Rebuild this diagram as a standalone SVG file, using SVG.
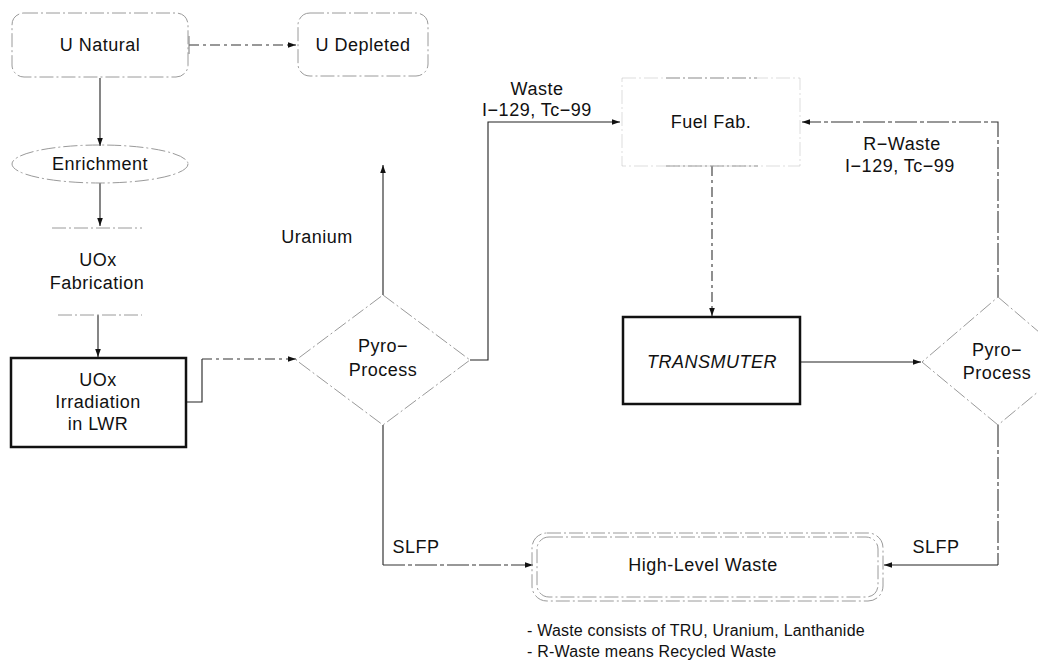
<svg xmlns="http://www.w3.org/2000/svg" width="1038" height="665" viewBox="0 0 1038 665">
<defs>
<style>
text{font-family:"Liberation Sans",Arial,sans-serif;font-size:18px;fill:#111;text-anchor:middle;letter-spacing:0.5px}
.faint{fill:none;stroke:#9a9a9a;stroke-width:1;stroke-dasharray:14 3 2 3}
.bold{fill:none;stroke:#111;stroke-width:2.5}
.ln{fill:none;stroke:#222;stroke-width:1.1}
.dash{fill:none;stroke:#333;stroke-width:1.1;stroke-dasharray:10 4 3 4}
.dash2{fill:none;stroke:#333;stroke-width:1.1;stroke-dasharray:22 3 4 3}
.note{text-anchor:start;font-size:16px;letter-spacing:0.2px}
</style>
<marker id="ah" viewBox="0 0 10 10" refX="10" refY="5" markerWidth="10" markerHeight="8" markerUnits="userSpaceOnUse" orient="auto">
<path d="M0,1.5 L10,5 L0,8.5 Z" fill="#111"/>
</marker>
</defs>
<rect width="1038" height="665" fill="#fff"/>

<g id="connectors">
<path class="dash" d="M189,45 H296" marker-end="url(#ah)"/>
<line x1="189" y1="36" x2="189" y2="54" stroke="#777" stroke-width="1"/>
<path class="ln" d="M100,78 V146" marker-end="url(#ah)"/>
<path class="ln" d="M100,183 V226" marker-end="url(#ah)"/>
<path class="ln" d="M98,315 V357" marker-end="url(#ah)"/>
<path class="ln" d="M186,402 H202 V359"/>
<path class="dash" d="M202,359 H296" marker-end="url(#ah)"/>
<path class="ln" d="M383,295 V165" marker-end="url(#ah)"/>
<path class="ln" d="M470,360 H488 V122 H620" marker-end="url(#ah)"/>
<path class="dash2" d="M998,297 V122 H802" marker-end="url(#ah)"/>
<path class="dash" d="M712,166 V316" marker-end="url(#ah)"/>
<path class="ln" d="M800,362 H921" marker-end="url(#ah)"/>
<path class="ln" d="M383,425 V565"/>
<path class="dash2" d="M383,565 H533" marker-end="url(#ah)"/>
<path class="dash2" d="M998,425 V565"/>
<path class="ln" d="M998,565 H884" marker-end="url(#ah)"/>
</g>

<g id="n-unatural">
<rect class="faint" x="12" y="13" width="176" height="64" rx="12"/>
<text x="100" y="51">U Natural</text>
</g>
<g id="n-udepleted">
<rect class="faint" x="298" y="13" width="130" height="63" rx="12"/>
<text x="363" y="51">U Depleted</text>
</g>
<g id="n-enrichment">
<ellipse class="faint" cx="100" cy="164" rx="88" ry="19"/>
<text x="100" y="170">Enrichment</text>
</g>
<g id="n-uoxfab">
<line class="faint" x1="52" y1="228" x2="142" y2="228"/>
<line class="faint" x1="58" y1="315" x2="142" y2="315"/>
<text x="98" y="266">UOx</text>
<text x="97" y="289">Fabrication</text>
</g>
<g id="n-irradiation">
<rect class="bold" x="11" y="358" width="175" height="89"/>
<text x="98" y="386">UOx</text>
<text x="98" y="408">Irradiation</text>
<text x="98" y="430">in LWR</text>
</g>
<g id="n-pyro1">
<polygon class="faint" points="383,295 470,360 383,425 296,360"/>
<text x="383" y="352">Pyro−</text>
<text x="383" y="376">Process</text>
</g>
<g id="n-fuelfab">
<rect class="faint" x="622" y="78" width="178" height="88" stroke-opacity="0.35"/>
<line class="faint" x1="666" y1="78" x2="757" y2="78"/>
<line class="faint" x1="666" y1="166" x2="758" y2="166"/>
<text x="711" y="128">Fuel Fab.</text>
</g>
<g id="n-transmuter">
<rect class="bold" x="623" y="317" width="177" height="87"/>
<text x="712" y="368" font-style="italic">TRANSMUTER</text>
</g>
<g id="n-pyro2">
<polygon class="faint" points="998,297 1074,362 998,425 922,362"/>
<text x="997" y="356">Pyro−</text>
<text x="997" y="379">Process</text>
</g>
<g id="n-hlw">
<rect class="faint" x="532" y="533" width="351" height="68" rx="15" stroke="#666"/>
<rect class="faint" x="537" y="537" width="341" height="60" rx="12" stroke="#888"/>
<text x="703" y="571">High-Level Waste</text>
</g>

<g id="labels">
<text x="317" y="243">Uranium</text>
<text x="537" y="95">Waste</text>
<text x="537" y="116">I−129, Tc−99</text>
<text x="902" y="150">R−Waste</text>
<text x="900" y="172">I−129, Tc−99</text>
<text x="416" y="553">SLFP</text>
<text x="936" y="553">SLFP</text>
<text class="note" x="527" y="636">- Waste consists of TRU, Uranium, Lanthanide</text>
<text class="note" x="527" y="657">- R-Waste means Recycled Waste</text>
</g>
</svg>
